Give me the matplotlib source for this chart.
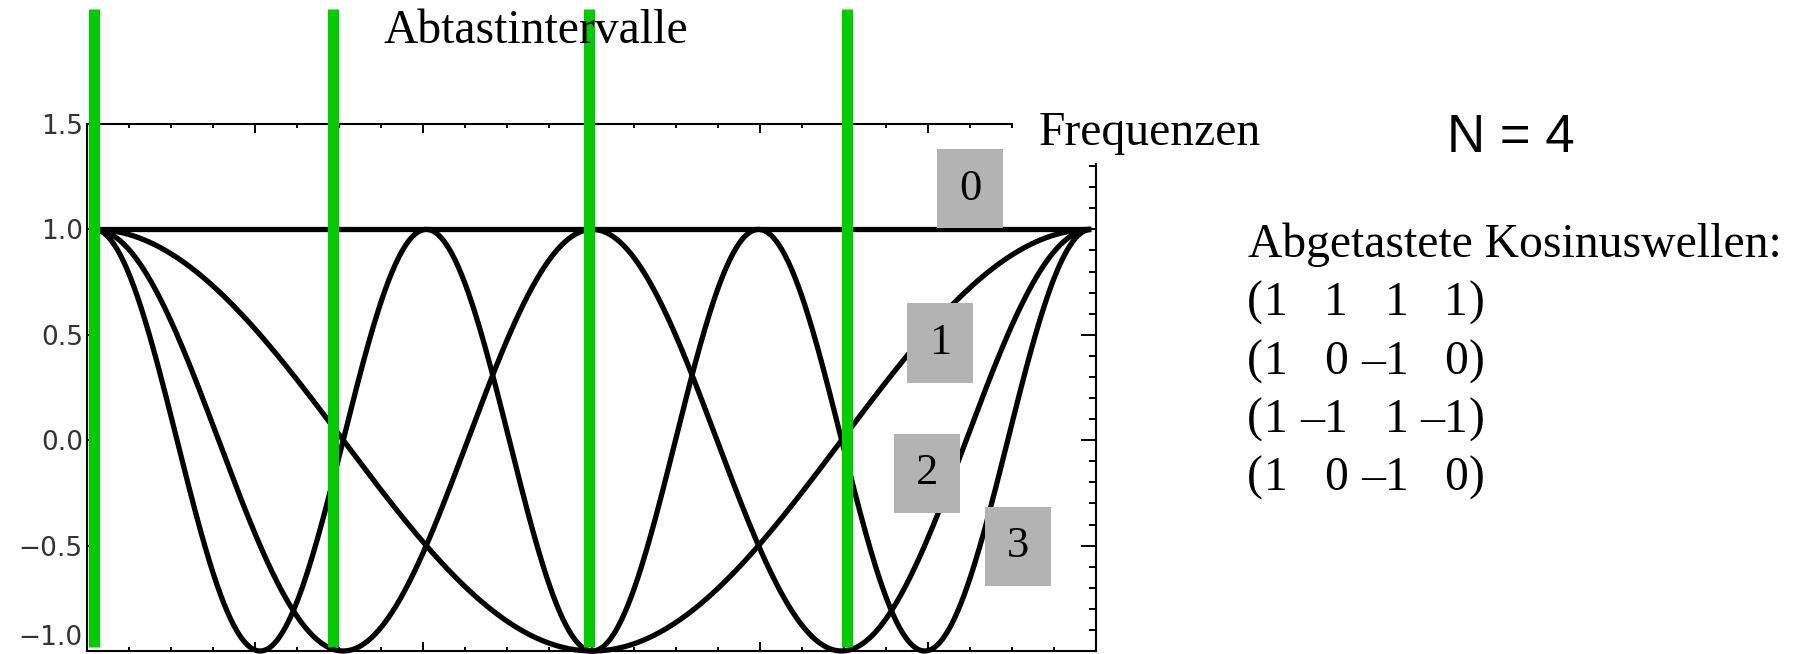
import numpy as np
import matplotlib
matplotlib.use("Agg")
import matplotlib.pyplot as plt
from matplotlib.patches import Rectangle
from matplotlib.markers import TICKDOWN

# data
frequencies = [0, 1, 2, 3]
sample_lines = [0.0, 0.24, 0.497, 0.755]      # green sampling lines (as drawn)
box_labels = ["0", "1", "2", "3"]
box_centers = [(0.879, 1.192), (0.849, 0.461), (0.836, -0.157), (0.927, -0.504)]
ytick_vals = [-1.0, -0.5, 0.0, 0.5, 1.0, 1.5]
ytick_labels = ["\u22121.0", "\u22120.5", "0.0", "0.5", "1.0", "1.5"]
sampled_rows = [[1, 1, 1, 1],
                [1, 0, -1, 0],
                [1, -1, 1, -1],
                [1, 0, -1, 0]]

W, H = 1800, 654
serif = "Liberation Serif"
sans = "Liberation Sans"

def fx(px):
    return px / W

def fy(py):
    return 1 - py / H

fig = plt.figure(figsize=(W / 100, H / 100), dpi=100)
ax = fig.add_axes([fx(87), fy(651), fx(1096) - fx(87), fy(124) - fy(651)])
ax.set_xlim(-0.007, 1.003)
ax.set_ylim(-1.0, 1.5)

for s in ["top", "right"]:
    ax.spines[s].set_visible(False)
for s in ["left", "bottom"]:
    ax.spines[s].set_linewidth(1.5)

# curves
t = np.linspace(0, 1, 600)
for k in frequencies:
    ax.plot(t, np.cos(2 * np.pi * k * t), color="black", lw=3.8,
            solid_capstyle="butt", clip_on=False, zorder=3)

# green sampling lines
ax.vlines(sample_lines, -0.981, 2.045, colors="#00cc00", lw=8,
          capstyle="butt", clip_on=False, zorder=4)

# gray labels
bw, bh = 0.066, 0.375
for lab, (cx, cy) in zip(box_labels, box_centers):
    ax.add_patch(Rectangle((cx - bw / 2, cy - bh / 2), bw, bh,
                           facecolor="#b3b3b3", edgecolor="none", zorder=5))
    ax.text(cx, cy, lab, ha="center", va="center", fontsize=32,
            family=serif, zorder=6)

# left axis ticks/labels
ax.set_yticks(ytick_vals)
ax.set_yticklabels(ytick_labels, family="DejaVu Sans", fontsize=19, color="#333333")
ax.tick_params(axis="y", direction="in", length=3.6, width=1.4, pad=3)
ax.get_yticklabels()[0].set_va("bottom")

# bottom axis ticks
major = 0.1687
ax.set_xticks(-0.007 + major * np.arange(7))
ax.set_xticks(-0.007 + major / 4 * np.arange(25), minor=True)
ax.tick_params(axis="x", which="major", direction="in", length=6.5, width=1.4,
               labelbottom=False)
ax.tick_params(axis="x", which="minor", direction="in", length=3.2, width=1.4)

# top line at 1.5 ending early, with downward ticks
top_end = 0.922
ax.plot([-0.007, top_end], [1.5, 1.5], color="black", lw=1.5, clip_on=False,
        solid_capstyle="butt", zorder=2)
tmin = -0.007 + major / 4 * np.arange(1, 23)
tmin = tmin[tmin <= top_end + 1e-6]
tmaj = -0.007 + major * np.arange(1, 6)
ax.plot(tmin, np.full(len(tmin), 1.5), ls="none", marker=TICKDOWN,
        markersize=3.2, mew=1.4, color="black", clip_on=False)
ax.plot(tmaj, np.full(len(tmaj), 1.5), ls="none", marker=TICKDOWN,
        markersize=6.5, mew=1.4, color="black", clip_on=False)

# right axis with its own ticks
ax2 = ax.twinx()
ax2.set_ylim(-1.0, 1.5)
for s in ["top", "left", "bottom"]:
    ax2.spines[s].set_visible(False)
ax2.spines["right"].set_linewidth(1.5)
ax2.spines["right"].set_bounds(-1.0, 1.31)
ax2.set_yticks([-0.5, 0.0, 0.5, 1.0])
ax2.set_yticks(np.round(np.arange(-1.0, 1.31, 0.1), 2), minor=True)
ax2.tick_params(axis="y", which="major", direction="in", length=11, width=1.4,
                labelright=False)
ax2.tick_params(axis="y", which="minor", direction="in", length=5, width=1.4)

# texts
fig.text(fx(383), fy(43), "Abtastintervalle", family=serif, fontsize=34.3,
         va="baseline", ha="left")
fig.text(fx(1039), fy(145), "Frequenzen", family=serif, fontsize=34.3,
         va="baseline", ha="left")
fig.text(fx(1447), fy(152), "N = 4", family=sans, fontsize=38,
         va="baseline", ha="left")
fig.text(fx(1248), fy(257), "Abgetastete Kosinuswellen:", family=serif,
         fontsize=34.3, va="baseline", ha="left")

col_right = [1288, 1348, 1409, 1468]
row_base = [315, 374, 432, 490]
for row, yb in zip(sampled_rows, row_base):
    fig.text(fx(1247), fy(yb), "(", family=serif, fontsize=34.3,
             va="baseline", ha="left")
    for v, xr in zip(row, col_right):
        s = str(v).replace("-", "\u2013")
        fig.text(fx(xr), fy(yb), s, family=serif, fontsize=34.3,
                 va="baseline", ha="right")
    fig.text(fx(1469), fy(yb), ")", family=serif, fontsize=34.3,
             va="baseline", ha="left")

fig.savefig("out.png", dpi=100)
